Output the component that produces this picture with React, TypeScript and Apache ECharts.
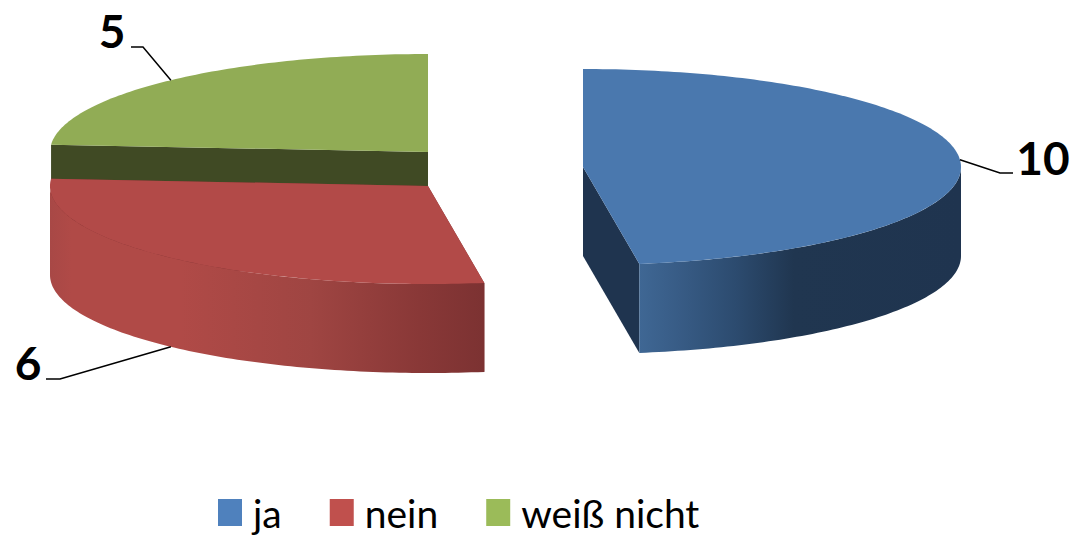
import React, { useEffect, useRef } from "react";
import * as echarts from "echarts";

// Survey answers shown as an exploded, tilted pie.
const categories = ["ja", "nein", "weiß nicht"];
const answerCounts = [10, 6, 5];

const legendColors = ["#4F81BD", "#C0504D", "#9BBB59"];
const topColors = ["#4A78AE", "#B24A48", "#91AC55"];
const cutColors = ["#1F344F", "#7D3232", "#404A24"];
const sideStops: [number, string][][] = [
  [[0, "#3F6794"], [0.12, "#385C86"], [0.3, "#2C4B6F"], [0.48, "#203650"], [1, "#1F344F"]],
  [[0, "#A84846"], [0.05, "#B04A47"], [0.3, "#B04A47"], [0.6, "#9F4542"], [0.85, "#893837"], [1, "#7C3232"]],
  [[0, "#5A6B35"], [1, "#404A24"]],
];

// Pie geometry: per-slice centre of the top face, ellipse radii and extrusion depth.
const sliceCentres = [[583, 167], [428, 186], [428, 152]];
const RX = 378;
const RY = 98;
const DEPTH = 89;

// Leader elbows and label anchors, per slice.
const leaderElbows = [[[1000, 173], [1013, 173]], [[60, 379], [46, 379]], [[143, 47], [131, 47]]];
const labelAnchors = [[1043, 157], [28, 362], [112, 30]];

const total = answerCounts.reduce((a, b) => a + b, 0);

// Clockwise degrees from twelve o'clock to a point on the ellipse around a centre.
const onRim = (c: number[], deg: number, drop = 0) => {
  const r = (deg * Math.PI) / 180;
  return [c[0] + RX * Math.sin(r), c[1] - RY * Math.cos(r) + drop];
};

const arc = (c: number[], from: number, to: number, drop = 0) => {
  const pts: number[][] = [];
  const steps = Math.max(2, Math.ceil(Math.abs(to - from)));
  for (let i = 0; i <= steps; i++) pts.push(onRim(c, from + ((to - from) * i) / steps, drop));
  return pts;
};

const makeRenderItem = (index: number) => (_params: any, api: any) => {
  const value = api.value(0);
  const before = answerCounts.slice(0, index).reduce((a, b) => a + b, 0);
  const start = (before / total) * 360;
  const end = start + (value / total) * 360;
  const mid = (start + end) / 2;
  const c = sliceCentres[index];
  const children: any[] = [];

  // Radial cut faces, drawn first so the top face overlaps them.
  [start, end].forEach((deg) => {
    const p = onRim(c, deg);
    children.push({
      type: "polygon",
      shape: { points: [c, p, [p[0], p[1] + DEPTH], [c[0], c[1] + DEPTH]] },
      style: { fill: cutColors[index] },
    });
  });

  // Outer wall for the part of the rim that faces the viewer.
  const wallFrom = Math.max(start, 90);
  const wallTo = Math.min(end, 270);
  if (wallTo > wallFrom) {
    const points = [...arc(c, wallFrom, wallTo), ...arc(c, wallTo, wallFrom, DEPTH)];
    children.push({
      type: "polygon",
      shape: { points },
      style: {
        fill: {
          type: "linear",
          x: 0,
          y: 0,
          x2: 1,
          y2: 0,
          colorStops: sideStops[index].map(([offset, color]) => ({ offset, color })),
        },
      },
    });
  }

  // Top face.
  children.push({
    type: "polygon",
    shape: { points: [c, ...arc(c, start, end)] },
    style: { fill: topColors[index] },
  });

  // Leader line from the middle of the slice's rim, then its value label.
  const rimDrop = mid > 90 && mid < 270 ? DEPTH : 0;
  children.push({
    type: "polyline",
    shape: { points: [onRim(c, mid, rimDrop), ...leaderElbows[index]] },
    style: { fill: "none", stroke: "#000000", lineWidth: 1.5 },
  });
  children.push({
    type: "text",
    style: {
      text: String(value),
      x: labelAnchors[index][0],
      y: labelAnchors[index][1],
      fill: "#000000",
      font: "bold 46px Lato",
      align: "center",
      verticalAlign: "middle",
    },
  });

  return { type: "group", children };
};

export default function App() {
  const ref = useRef<HTMLDivElement>(null);

  useEffect(() => {
    const chart = echarts.init(ref.current!, null, { renderer: "svg" });
    chart.setOption({
      animation: false,
      backgroundColor: "#FFFFFF",
      legend: {
        data: categories,
        left: 218,
        top: 493,
        padding: 0,
        icon: "rect",
        itemWidth: 24,
        itemHeight: 27,
        itemGap: 48,
        textStyle: {
          fontFamily: "Lato",
          fontSize: 39,
          lineHeight: 27,
          color: "#000000",
          padding: [0, 0, 0, 6],
        },
      },
      series: categories.map((name, i) => ({
        type: "custom",
        name,
        coordinateSystem: "none",
        // Green sits behind red, so it paints first.
        z: i === 2 ? 1 : 2,
        itemStyle: { color: legendColors[i] },
        renderItem: makeRenderItem(i),
        data: [[answerCounts[i]]],
      })),
    });
    return () => chart.dispose();
  }, []);

  return (
    <div
      ref={ref}
      style={{ position: "absolute", left: 0, top: 0, width: 1073, height: 535 }}
    />
  );
}
